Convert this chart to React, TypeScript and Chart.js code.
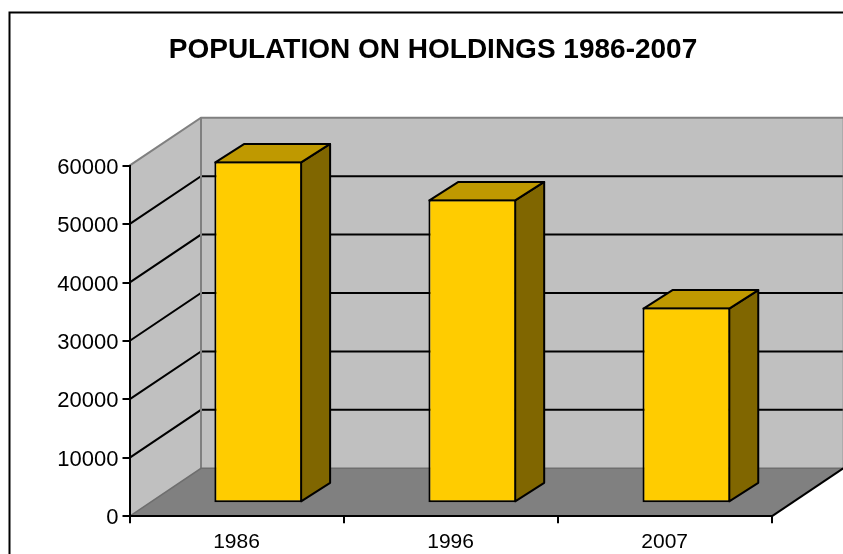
import React, { useEffect, useRef } from "react";
import { Chart, registerables } from "chart.js";

Chart.register(...registerables);

const categories = ["1986", "1996", "2007"];
const population = [58500, 52000, 33500];
const titleText = "POPULATION ON HOLDINGS 1986-2007";
const yMax = 60000;
const yStep = 10000;

const WALL = "#c0c0c0";
const FLOOR = "#808080";
const EDGE = "#808080";
const FRONT = "#ffcc00";
const TOP = "#bf9900";
const SIDE = "#806600";
const DEPTH = { x: 71.5, y: -48 };
const BAR_SHIFT = { x: 21.7, y: -13 };
const BAR_DEPTH = { x: 29, y: -18.5 };

function poly(ctx: CanvasRenderingContext2D, pts: number[][], fill: string | null, stroke: string | null, lw = 2) {
  ctx.beginPath();
  pts.forEach((p, i) => (i ? ctx.lineTo(p[0], p[1]) : ctx.moveTo(p[0], p[1])));
  ctx.closePath();
  if (fill) {
    ctx.fillStyle = fill;
    ctx.fill();
  }
  if (stroke) {
    ctx.strokeStyle = stroke;
    ctx.lineWidth = lw;
    ctx.lineJoin = "round";
    ctx.stroke();
  }
}

function line(ctx: CanvasRenderingContext2D, pts: number[][], stroke: string, lw = 2) {
  ctx.beginPath();
  pts.forEach((p, i) => (i ? ctx.lineTo(p[0], p[1]) : ctx.moveTo(p[0], p[1])));
  ctx.strokeStyle = stroke;
  ctx.lineWidth = lw;
  ctx.stroke();
}

const walls3d = {
  id: "walls3d",
  beforeDraw(chart: any) {
    const { ctx, chartArea, width, height, scales } = chart;
    const { left, right, top, bottom } = chartArea;
    const bx = left + DEPTH.x;
    const by = bottom + DEPTH.y;
    const ty = top + DEPTH.y;
    const rx = right + DEPTH.x;
    ctx.save();
    ctx.fillStyle = "#ffffff";
    ctx.fillRect(0, 0, width, height);
    // frame (right and bottom sides fall outside the picture)
    ctx.strokeStyle = "#000000";
    ctx.lineWidth = 2;
    ctx.strokeRect(9.5, 12.5, 1000, 1000);
    // walls
    poly(ctx, [[bx, ty], [rx, ty], [rx, by], [bx, by]], WALL, null);
    poly(ctx, [[left, top], [bx, ty], [bx, by], [left, bottom]], WALL, null);
    poly(ctx, [[left, bottom], [bx, by], [rx, by], [right, bottom]], FLOOR, null);
    // gridlines follow the value scale across both walls
    for (const t of scales.y.ticks) {
      if (t.value === 0 || t.value === yMax) continue;
      const y = scales.y.getPixelForValue(t.value);
      line(ctx, [[left, y], [bx, y + DEPTH.y], [rx, y + DEPTH.y]], "#000000");
    }
    // wall edges
    line(ctx, [[left, top], [bx, ty], [rx, ty]], EDGE);
    line(ctx, [[bx, ty], [bx, by]], EDGE);
    line(ctx, [[rx, ty], [rx, by]], EDGE, 1);
    line(ctx, [[left, bottom], [bx, by], [rx, by]], "#6e6e6e", 1.5);
    line(ctx, [[right, bottom], [rx, by]], "#000000");
    ctx.restore();
  },
  beforeDatasetsDraw(chart: any) {
    const { ctx } = chart;
    ctx.save();
    ctx.translate(BAR_SHIFT.x, BAR_SHIFT.y);
    const meta = chart.getDatasetMeta(0);
    for (const bar of meta.data) {
      const l = bar.x - bar.width / 2 + 1;
      const r = bar.x + bar.width / 2 - 1;
      const t = bar.y + 1;
      const b = bar.base - 1;
      poly(ctx, [[r, t], [r + BAR_DEPTH.x, t + BAR_DEPTH.y], [r + BAR_DEPTH.x, b + BAR_DEPTH.y], [r, b]], SIDE, "#000000");
      poly(ctx, [[l, t], [l + BAR_DEPTH.x, t + BAR_DEPTH.y], [r + BAR_DEPTH.x, t + BAR_DEPTH.y], [r, t]], TOP, "#000000");
    }
  },
  afterDatasetsDraw(chart: any) {
    chart.ctx.restore();
  },
};

export default function App() {
  const ref = useRef<HTMLCanvasElement | null>(null);
  useEffect(() => {
    const chart = new Chart(ref.current as HTMLCanvasElement, {
      type: "bar",
      data: {
        labels: categories,
        datasets: [
          {
            data: population,
            backgroundColor: FRONT,
            borderColor: "#000000",
            borderWidth: 2,
            borderSkipped: false,
            barPercentage: 0.41,
            categoryPercentage: 1,
            clip: false,
          } as any,
        ],
      },
      options: {
        animation: false,
        responsive: false,
        layout: { padding: { left: 23, right: 0, top: 0, bottom: 0 } },
        plugins: {
          legend: { display: false },
          tooltip: { enabled: false },
          title: {
            display: true,
            text: titleText,
            color: "#000000",
            font: { family: "'Liberation Sans', Arial, sans-serif", size: 28, weight: "bold" },
            padding: { top: 33, bottom: 99.1 },
          },
        },
        scales: {
          x: {
            grid: { offset: true, drawOnChartArea: false, color: "#000000", lineWidth: 2, tickLength: 7 },
            border: { color: "#000000", width: 2 },
            ticks: {
              color: "#000000",
              font: { family: "'Liberation Sans', Arial, sans-serif", size: 21 },
              padding: 6,
              maxRotation: 0,
            },
            afterFit(s: any) {
              s.height = 554 - 516.3;
            },
          },
          y: {
            min: 0,
            max: yMax,
            grid: { drawOnChartArea: false, color: "#000000", lineWidth: 2, tickLength: 7 },
            border: { color: "#000000", width: 2 },
            ticks: {
              stepSize: yStep,
              color: "#000000",
              font: { family: "'Liberation Sans', Arial, sans-serif", size: 22 },
              padding: 4,
              labelOffset: 2,
              callback: (v: number) => String(v),
            },
            afterFit(s: any) {
              s.width = 106.5;
            },
          },
          margin: {
            position: "right",
            display: true,
            grid: { display: false, drawTicks: false },
            border: { display: false },
            ticks: { display: false },
            afterFit(s: any) {
              s.width = 843 - 771.7;
            },
          },
        },
      } as any,
      plugins: [walls3d],
    });
    return () => chart.destroy();
  }, []);
  return (
    <div style={{ position: "fixed", left: 0, top: 0, width: 843, height: 554, overflow: "hidden" }}>
      <canvas ref={ref} width={843} height={554} style={{ display: "block" }} />
    </div>
  );
}
